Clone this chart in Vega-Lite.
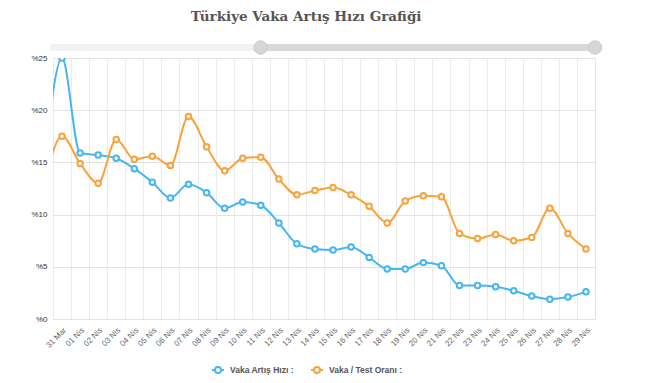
{
  "$schema": "https://vega.github.io/schema/vega-lite/v6.json",
  "background": "white",
  "padding": {"left": 30, "top": 10, "right": 10, "bottom": 5},
  "config": {"font": "Liberation Sans"},
  "title": {"text": "Türkiye Vaka Artış Hızı Grafiği", "font": "DejaVu Serif", "fontWeight": "bold", "fontSize": 13.5, "color": "#555555", "anchor": "middle", "dx": -11, "offset": 15},
  "bounds": "flush",
  "spacing": 7,
  "vconcat": [
    {
      "width": 542,
      "height": 7,
      "view": {"stroke": null},
      "data": {"values": [
        {"part": "track", "start": "2020-03-13", "end": "2020-04-29"},
        {"part": "selected", "start": "2020-03-31", "end": "2020-04-29"}
      ]},
      "encoding": {
        "x": {"field": "start", "type": "temporal", "scale": {"type": "utc", "nice": false}, "axis": null}
      },
      "layer": [
        {"transform": [{"filter": "datum.part == 'track'"}], "mark": {"type": "rule", "color": "#f2f2f2", "strokeWidth": 7, "strokeCap": "round"}, "encoding": {"x2": {"field": "end"}}},
        {"transform": [{"filter": "datum.part == 'selected'"}], "mark": {"type": "rule", "color": "#d9d9d9", "strokeWidth": 7}, "encoding": {"x2": {"field": "end"}}},
        {"transform": [{"filter": "datum.part == 'selected'"}], "mark": {"type": "point", "shape": "circle", "filled": true, "color": "#d6d6d6", "size": 180, "opacity": 1, "stroke": "#cccccc", "strokeWidth": 1}},
        {"transform": [{"filter": "datum.part == 'selected'"}], "mark": {"type": "point", "shape": "circle", "filled": true, "color": "#d6d6d6", "size": 180, "opacity": 1, "stroke": "#cccccc", "strokeWidth": 1}, "encoding": {"x": {"field": "end", "type": "temporal"}}}
      ]
    },
    {
      "width": 542,
      "height": 261,
      "view": {"stroke": "#e6e6e6"},
      "data": {"values": [
        {"date": "2020-03-30", "series": "Vaka Artış Hızı :", "value": 14.4},
        {"date": "2020-03-31", "series": "Vaka Artış Hızı :", "value": 25.0},
        {"date": "2020-04-01", "series": "Vaka Artış Hızı :", "value": 15.9},
        {"date": "2020-04-02", "series": "Vaka Artış Hızı :", "value": 15.7},
        {"date": "2020-04-03", "series": "Vaka Artış Hızı :", "value": 15.4},
        {"date": "2020-04-04", "series": "Vaka Artış Hızı :", "value": 14.4},
        {"date": "2020-04-05", "series": "Vaka Artış Hızı :", "value": 13.1},
        {"date": "2020-04-06", "series": "Vaka Artış Hızı :", "value": 11.6},
        {"date": "2020-04-07", "series": "Vaka Artış Hızı :", "value": 12.9},
        {"date": "2020-04-08", "series": "Vaka Artış Hızı :", "value": 12.1},
        {"date": "2020-04-09", "series": "Vaka Artış Hızı :", "value": 10.6},
        {"date": "2020-04-10", "series": "Vaka Artış Hızı :", "value": 11.2},
        {"date": "2020-04-11", "series": "Vaka Artış Hızı :", "value": 10.9},
        {"date": "2020-04-12", "series": "Vaka Artış Hızı :", "value": 9.2},
        {"date": "2020-04-13", "series": "Vaka Artış Hızı :", "value": 7.2},
        {"date": "2020-04-14", "series": "Vaka Artış Hızı :", "value": 6.7},
        {"date": "2020-04-15", "series": "Vaka Artış Hızı :", "value": 6.6},
        {"date": "2020-04-16", "series": "Vaka Artış Hızı :", "value": 6.9},
        {"date": "2020-04-17", "series": "Vaka Artış Hızı :", "value": 5.9},
        {"date": "2020-04-18", "series": "Vaka Artış Hızı :", "value": 4.8},
        {"date": "2020-04-19", "series": "Vaka Artış Hızı :", "value": 4.8},
        {"date": "2020-04-20", "series": "Vaka Artış Hızı :", "value": 5.4},
        {"date": "2020-04-21", "series": "Vaka Artış Hızı :", "value": 5.1},
        {"date": "2020-04-22", "series": "Vaka Artış Hızı :", "value": 3.2},
        {"date": "2020-04-23", "series": "Vaka Artış Hızı :", "value": 3.2},
        {"date": "2020-04-24", "series": "Vaka Artış Hızı :", "value": 3.1},
        {"date": "2020-04-25", "series": "Vaka Artış Hızı :", "value": 2.7},
        {"date": "2020-04-26", "series": "Vaka Artış Hızı :", "value": 2.2},
        {"date": "2020-04-27", "series": "Vaka Artış Hızı :", "value": 1.9},
        {"date": "2020-04-28", "series": "Vaka Artış Hızı :", "value": 2.1},
        {"date": "2020-04-29", "series": "Vaka Artış Hızı :", "value": 2.6},
        {"date": "2020-03-30", "series": "Vaka / Test Oranı :", "value": 12.7},
        {"date": "2020-03-31", "series": "Vaka / Test Oranı :", "value": 17.5},
        {"date": "2020-04-01", "series": "Vaka / Test Oranı :", "value": 14.9},
        {"date": "2020-04-02", "series": "Vaka / Test Oranı :", "value": 13.0},
        {"date": "2020-04-03", "series": "Vaka / Test Oranı :", "value": 17.2},
        {"date": "2020-04-04", "series": "Vaka / Test Oranı :", "value": 15.3},
        {"date": "2020-04-05", "series": "Vaka / Test Oranı :", "value": 15.6},
        {"date": "2020-04-06", "series": "Vaka / Test Oranı :", "value": 14.7},
        {"date": "2020-04-07", "series": "Vaka / Test Oranı :", "value": 19.4},
        {"date": "2020-04-08", "series": "Vaka / Test Oranı :", "value": 16.5},
        {"date": "2020-04-09", "series": "Vaka / Test Oranı :", "value": 14.2},
        {"date": "2020-04-10", "series": "Vaka / Test Oranı :", "value": 15.4},
        {"date": "2020-04-11", "series": "Vaka / Test Oranı :", "value": 15.5},
        {"date": "2020-04-12", "series": "Vaka / Test Oranı :", "value": 13.4},
        {"date": "2020-04-13", "series": "Vaka / Test Oranı :", "value": 11.9},
        {"date": "2020-04-14", "series": "Vaka / Test Oranı :", "value": 12.3},
        {"date": "2020-04-15", "series": "Vaka / Test Oranı :", "value": 12.6},
        {"date": "2020-04-16", "series": "Vaka / Test Oranı :", "value": 11.9},
        {"date": "2020-04-17", "series": "Vaka / Test Oranı :", "value": 10.8},
        {"date": "2020-04-18", "series": "Vaka / Test Oranı :", "value": 9.2},
        {"date": "2020-04-19", "series": "Vaka / Test Oranı :", "value": 11.3},
        {"date": "2020-04-20", "series": "Vaka / Test Oranı :", "value": 11.8},
        {"date": "2020-04-21", "series": "Vaka / Test Oranı :", "value": 11.7},
        {"date": "2020-04-22", "series": "Vaka / Test Oranı :", "value": 8.2},
        {"date": "2020-04-23", "series": "Vaka / Test Oranı :", "value": 7.7},
        {"date": "2020-04-24", "series": "Vaka / Test Oranı :", "value": 8.1},
        {"date": "2020-04-25", "series": "Vaka / Test Oranı :", "value": 7.5},
        {"date": "2020-04-26", "series": "Vaka / Test Oranı :", "value": 7.8},
        {"date": "2020-04-27", "series": "Vaka / Test Oranı :", "value": 10.6},
        {"date": "2020-04-28", "series": "Vaka / Test Oranı :", "value": 8.2},
        {"date": "2020-04-29", "series": "Vaka / Test Oranı :", "value": 6.7}
      ]},
      "encoding": {
        "x": {
          "field": "date", "type": "temporal",
          "scale": {"type": "utc", "domain": [1585569600000, 1588161600000], "nice": false},
          "axis": {
            "values": [1585569600000, 1585656000000, 1585742400000, 1585828800000, 1585915200000, 1586001600000, 1586088000000, 1586174400000, 1586260800000, 1586347200000, 1586433600000, 1586520000000, 1586606400000, 1586692800000, 1586779200000, 1586865600000, 1586952000000, 1587038400000, 1587124800000, 1587211200000, 1587297600000, 1587384000000, 1587470400000, 1587556800000, 1587643200000, 1587729600000, 1587816000000, 1587902400000, 1587988800000, 1588075200000],
            "labelExpr": "utcFormat(time(datum.value) + 43200000, '%d') + (utcmonth(time(datum.value) + 43200000) == 2 ? ' Mar' : ' Nis')",
            "labelOffset": 9,
            "labelAngle": -45,
            "labelFontSize": 8,
            "labelColor": "#666666",
            "labelPadding": 7,
            "labelOverlap": false,
            "labelFlush": false,
            "grid": true,
            "gridColor": "#ebebeb",
            "ticks": false,
            "domain": false,
            "title": null
          }
        },
        "y": {
          "field": "value", "type": "quantitative",
          "scale": {"domain": [0, 25], "nice": false},
          "axis": {
            "values": [0, 5, 10, 15, 20, 25],
            "labelExpr": "'%' + datum.value",
            "labelFontSize": 8,
            "labelColor": "#333333",
            "labelPadding": 6,
            "grid": true,
            "gridColor": "#e3e3e3",
            "ticks": false,
            "domain": false,
            "title": null
          }
        },
        "color": {
          "field": "series", "type": "nominal",
          "scale": {"domain": ["Vaka Artış Hızı :", "Vaka / Test Oranı :"], "range": ["#45b6f2", "#f9a23b"]},
          "legend": {
            "orient": "none",
            "legendX": 158,
            "legendY": 319,
            "direction": "horizontal",
            "title": null,
            "labelFontSize": 8.5,
            "labelFontWeight": "bold",
            "labelColor": "#555555",
            "labelOffset": 5,
            "columnPadding": 13,
            "symbolType": "M-1,0H-0.5M0.5,0H1M-0.5,0A0.5,0.5 0 1,0 0.5,0A0.5,0.5 0 1,0 -0.5,0",
            "symbolSize": 144,
            "symbolStrokeWidth": 2,
            "symbolFillColor": "white"
          }
        }
      },
      "layer": [
        {"mark": {"type": "line", "interpolate": "monotone", "strokeWidth": 2, "clip": true}},
        {"mark": {"type": "point", "shape": "circle", "filled": false, "fill": "white", "size": 30, "strokeWidth": 2, "opacity": 1, "clip": true}}
      ]
    }
  ]
}
